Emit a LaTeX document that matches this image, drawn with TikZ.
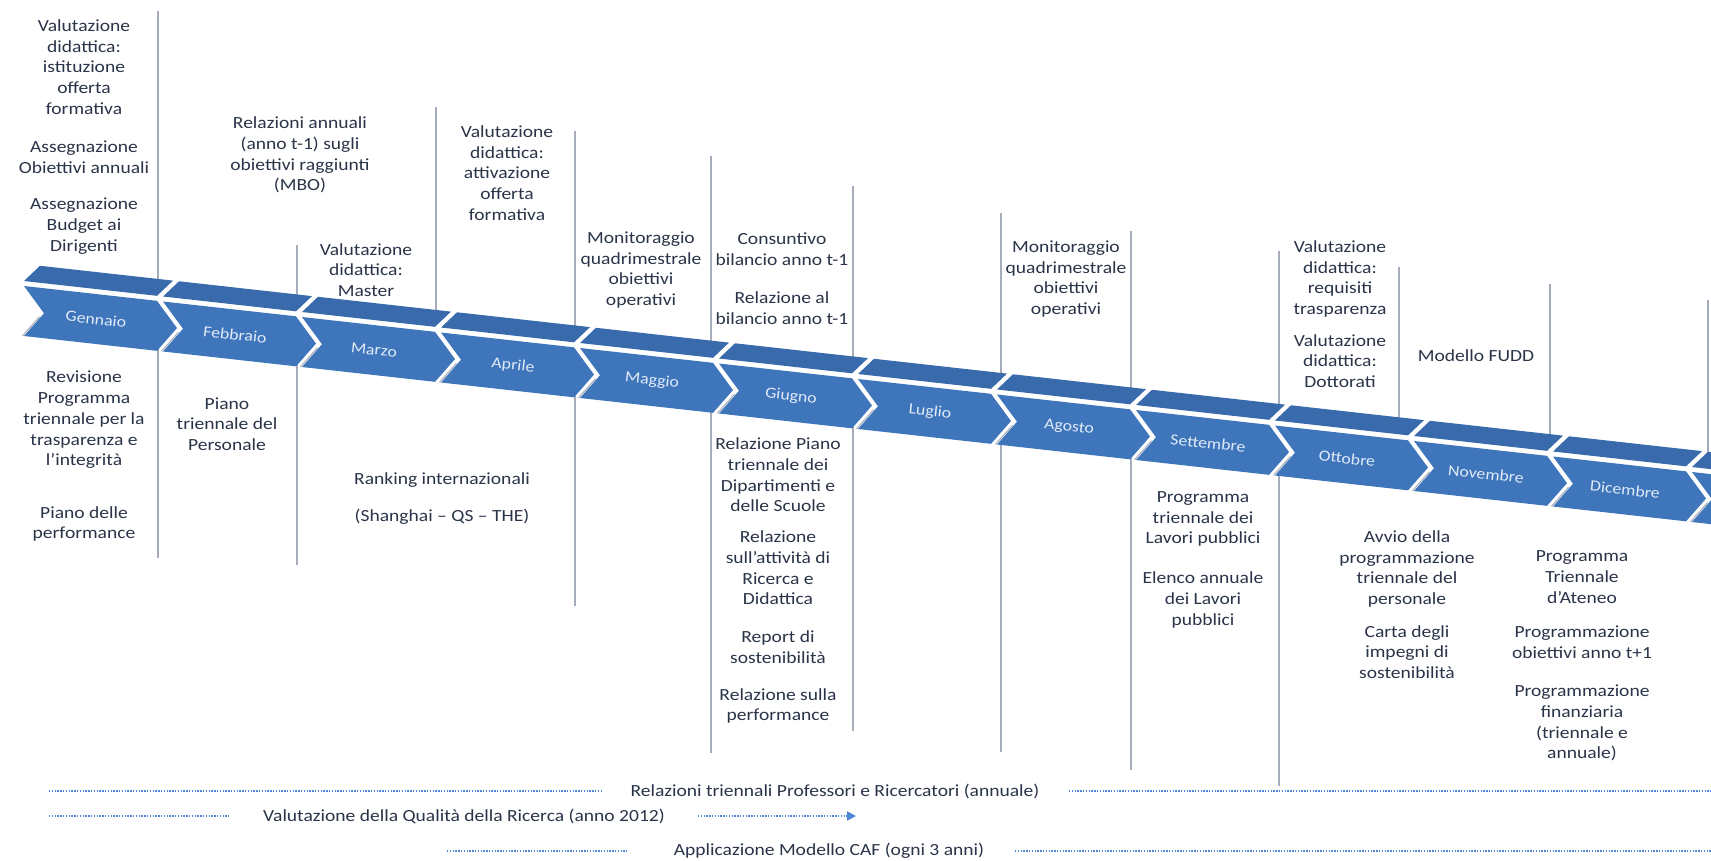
\documentclass[tikz,border=0pt]{standalone}
\usepackage{fontspec}
\setmainfont{Carlito}[FakeStretch=1.15]
\usetikzlibrary{arrows.meta}
\definecolor{txt}{RGB}{42,52,72}
\definecolor{frontblue}{RGB}{62,117,187}
\definecolor{topblue}{RGB}{56,106,172}
\definecolor{vline}{RGB}{165,172,186}
\definecolor{dotblue}{RGB}{80,135,212}
\definecolor{monthtxt}{RGB}{225,235,248}
\definecolor{sepgray}{RGB}{170,176,188}
\begin{document}
\begin{tikzpicture}[x=1pt,y=-1pt,
  annot/.style={font=\fontsize{17}{20.7}\selectfont, text=txt, align=center, inner sep=0pt},
  bottomtxt/.style={font=\fontsize{17}{20.7}\selectfont, text=txt, inner sep=0pt},
  monthlbl/.style={font=\fontsize{15.5}{17}\selectfont, text=monthtxt, inner sep=0pt, rotate=-6.4},
  sepline/.style={draw=vline, line width=1.5pt},
  dotline/.style={draw=dotblue, line width=1.9pt, dash pattern=on 1.3pt off 1.5pt},
]
\useasboundingbox (0,0) rectangle (1711,861);
\fill[white] (0,0) rectangle (1711,861);
\clip (0,0) rectangle (1711,861);

% upper separator lines
\foreach \x/\ya in {158/11, 297/245, 436/107, 575/131, 711/156, 853/186, 1001/213, 1131/231, 1279/251, 1399/267, 1550/284, 1708/300}{
  \draw[sepline] (\x,\ya) -- (\x,{268+0.1115*(\x-24)});
}
% lower separator lines
\foreach \x/\yb in {158/558, 297/565, 575/606, 711/753, 853/731, 1001/752, 1131/770, 1279/786}{
  \draw[sepline] (\x,{333+0.1115*(\x-24)}) -- (\x,\yb);
}

% timeline chevrons
\foreach \i in {0,...,12}{
  \begin{scope}[shift={(24+139*\i,286+15.5*\i)}, yslant=-0.1115]
    \fill[topblue] (0,-5) -- (16,-22) -- (149,-22) -- (133,-5) -- cycle;
    \fill[frontblue] (0,0) -- (133,0) -- (153,25) -- (133,50) -- (0,50) -- (20,25) -- cycle;
    \draw[sepgray, line width=1.1pt] (15.5,29) -- (-1.5,50);
  \end{scope}
}
\foreach \i/\mname in {0/Gennaio,1/Febbraio,2/Marzo,3/Aprile,4/Maggio,5/Giugno,6/Luglio,7/Agosto,8/Settembre,9/Ottobre,10/Novembre,11/Dicembre}{
  \begin{scope}[shift={(24+139*\i,286+15.5*\i)}, yslant=-0.1115]
    \node[monthlbl] (m\i) at (72,25) {\mname};
  \end{scope}
}

% Gennaio
\node[annot] (g1) at (84,67) {Valutazione\\didattica:\\istituzione\\offerta\\formativa};
\node[annot] (g2) at (84,157) {Assegnazione\\Obiettivi annuali};
\node[annot] (g3) at (84,226) {Assegnazione\\Budget ai\\Dirigenti};
\node[annot] (g4) at (84,420) {Revisione\\Programma\\triennale per la\\trasparenza e\\l'integrità};
\node[annot] (g5) at (84,524) {Piano delle\\performance};
% Febbraio
\node[annot] (f1) at (300,155) {Relazioni annuali\\(anno t-1) sugli\\obiettivi raggiunti\\(MBO)};
\node[annot] (f2) at (227,424) {Piano\\triennale del\\Personale};
% Marzo
\node[annot] (mz1) at (366,270) {Valutazione\\didattica:\\Master};
\node[annot] (mz2) at (442,480) {Ranking internazionali};
\node[annot] (mz3) at (442,517) {(Shanghai – QS – THE)};
% Aprile
\node[annot] (a1) at (507,173) {Valutazione\\didattica:\\attivazione\\offerta\\formativa};
% Maggio
\node[annot] (mg1) at (641,270) {Monitoraggio\\quadrimestrale\\obiettivi\\operativi};
% Giugno
\node[annot] (gi1) at (782,249) {Consuntivo\\bilancio anno t-1};
\node[annot] (gi2) at (782,308) {Relazione al\\bilancio anno t-1};
\node[annot] (gi3) at (778,475) {Relazione Piano\\triennale dei\\Dipartimenti e\\delle Scuole};
\node[annot] (gi4) at (778,568) {Relazione\\sull'attività di\\Ricerca e\\Didattica};
\node[annot] (gi5) at (778,647) {Report di\\sostenibilità};
\node[annot] (gi6) at (778,706) {Relazione sulla\\performance};
% Agosto
\node[annot] (ag1) at (1066,279) {Monitoraggio\\quadrimestrale\\obiettivi\\operativi};
% Settembre
\node[annot] (s1) at (1203,519) {Programma\\triennale dei\\Lavori pubblici};
\node[annot] (s2) at (1203,600) {Elenco annuale\\dei Lavori\\pubblici};
% Ottobre
\node[annot] (o1) at (1340,279) {Valutazione\\didattica:\\requisiti\\trasparenza};
\node[annot] (o2) at (1340,361) {Valutazione\\didattica:\\Dottorati};
\node[annot] (o3) at (1407,569) {Avvio della\\programmazione\\triennale del\\personale};
\node[annot] (o4) at (1407,652) {Carta degli\\impegni di\\sostenibilità};
% Novembre
\node[annot] (n1) at (1476,356) {Modello FUDD};
% Dicembre
\node[annot] (d1) at (1582,577) {Programma\\Triennale\\d'Ateneo};
\node[annot] (d2) at (1582,642) {Programmazione\\obiettivi anno t+1};
\node[annot] (d3) at (1582,723) {Programmazione\\finanziaria\\(triennale e\\annuale)};

% bottom rows
\node[bottomtxt] (r1) at (835,791) {Relazioni triennali Professori e Ricercatori (annuale)};
\node[bottomtxt] (r2) at (464,816) {Valutazione della Qualità della Ricerca (anno 2012)};
\node[bottomtxt] (r3) at (829,851) {Applicazione Modello CAF (ogni 3 anni)};
\coordinate (r1a) at (49,791); \coordinate (r1b) at (603,791);
\coordinate (r1c) at (1069,791); \coordinate (r1d) at (1711,791);
\coordinate (r2a) at (49,816); \coordinate (r2b) at (229,816);
\coordinate (r2c) at (698,816); \coordinate (r2d) at (856,816);
\coordinate (r3a) at (447,851); \coordinate (r3b) at (627,851);
\coordinate (r3c) at (1015,851); \coordinate (r3d) at (1711,851);
\draw[dotline] (r1a) -- (r1b);
\draw[dotline] (r1c) -- (r1d);
\draw[dotline] (r2a) -- (r2b);
\draw[dotline, -{Triangle[length=9pt,width=9pt]}] (r2c) -- (r2d);
\draw[dotline] (r3a) -- (r3b);
\draw[dotline] (r3c) -- (r3d);
\end{tikzpicture}
\end{document}
